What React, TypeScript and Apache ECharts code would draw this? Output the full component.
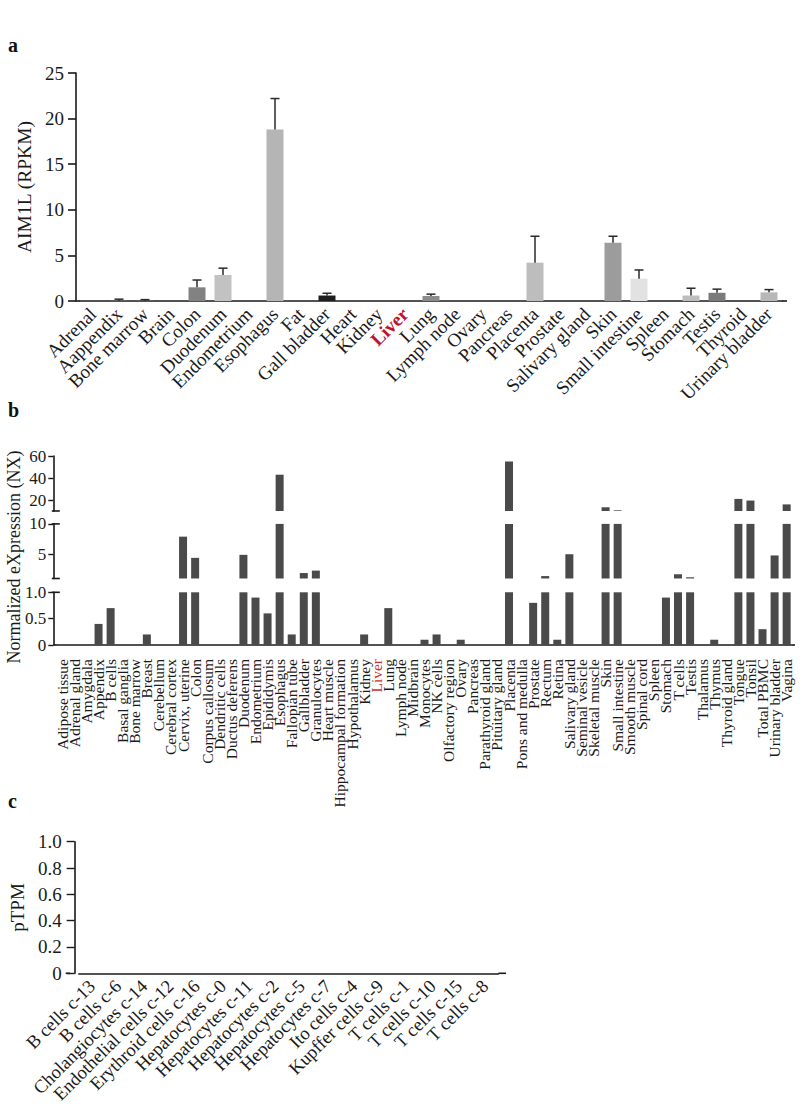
import React, { useEffect, useRef } from "react";
import * as echarts from "echarts";

const FONT = "'Liberation Serif', 'Times New Roman', serif";

// ---------- Panel a ----------
const tissuesA = [
  "Adrenal", "Aappendix", "Bone marrow", "Brain", "Colon", "Duodenum", "Endometrium",
  "Esophagus", "Fat", "Gall bladder", "Heart", "Kidney", "Liver", "Lung", "Lymph node",
  "Ovary", "Pancreas", "Placenta", "Prostate", "Salivary gland", "Skin", "Small intestine",
  "Spleen", "Stomach", "Testis", "Thyroid", "Urinary bladder",
];
const rpkmMean = [
  0, 0.02, 0.02, 0, 1.5, 2.85, 0, 18.8, 0, 0.6, 0, 0, 0, 0.55, 0,
  0, 0, 4.2, 0, 0, 6.4, 2.45, 0, 0.6, 0.9, 0, 0.95,
];
const rpkmUpper = [
  0, 0.2, 0.15, 0, 2.3, 3.6, 0, 22.2, 0, 0.85, 0, 0, 0, 0.75, 0,
  0, 0, 7.1, 0, 0, 7.1, 3.4, 0, 1.4, 1.3, 0, 1.25,
];
const shadesA = [
  "#999", "#999", "#999", "#999", "#828282", "#c2c2c2", "#999", "#b5b5b5", "#999", "#1e1e1e",
  "#999", "#999", "#999", "#8c8c8c", "#999", "#999", "#999", "#bdbdbd", "#999", "#999",
  "#9c9c9c", "#e2e2e2", "#999", "#bdbdbd", "#7a7a7a", "#999", "#b8b8b8",
];
const rpkmTicks = [0, 5, 10, 15, 20, 25];

// ---------- Panel b ----------
const tissuesB = [
  "Adipose tissue", "Adrenal gland", "Amygdala", "Appendix", "B cells", "Basal ganglia",
  "Bone marrow", "Breast", "Cerebellum", "Cerebral cortex", "Cervix, uterine", "Colon",
  "Corpus callosum", "Dendritic cells", "Ductus deferens", "Duodenum", "Endometrium",
  "Epididymis", "Esophagus", "Fallopian tube", "Gallbladder", "Granulocytes", "Heart muscle",
  "Hippocampal formation", "Hypothalamus", "Kidney", "Liver", "Lung", "Lymph node", "Midbrain",
  "Monocytes", "NK cells", "Olfactory region", "Ovary", "Pancreas", "Parathyroid gland",
  "Pituitary gland", "Placenta", "Pons and medulla", "Prostate", "Rectum", "Retina",
  "Salivary gland", "Seminal vesicle", "Skeletal muscle", "Skin", "Small intestine",
  "Smooth muscle", "Spinal cord", "Spleen", "Stomach", "T cells", "Testis", "Thalamus",
  "Thymus", "Thyroid gland", "Tongue", "Tonsil", "Total PBMC", "Urinary bladder", "Vagina",
];
const nxValues = [
  0, 0, 0, 0.4, 0.7, 0, 0, 0.2, 0, 0, 7.9, 4.4,
  0, 0, 0, 4.9, 0.9, 0.6, 43, 0.2, 1.9, 2.3, 0,
  0, 0, 0.2, 0, 0.7, 0, 0, 0.1, 0.2, 0, 0.1, 0, 0,
  0, 55, 0, 0.8, 1.4, 0.1, 5.0, 0, 0, 13.4, 10.6,
  0, 0, 0, 0.9, 1.7, 1.2, 0, 0.1, 0, 21, 19.5, 0.3, 4.8, 16,
];
const nxTopTicks = [20, 40, 60];
const nxMidTicks = [5, 10];
const nxBotTicks = [0, 0.5, 1.0];

// ---------- Panel c ----------
const cellTypes = [
  "B cells c-13", "B cells c-6", "Cholangiocytes c-14", "Endothelial cells c-12",
  "Erythroid cells c-16", "Hepatocytes c-0", "Hepatocytes c-11", "Hepatocytes c-2",
  "Hepatocytes c-5", "Hepatocytes c-7", "Ito cells c-4", "Kupffer cells c-9",
  "T cells c-1", "T cells c-10", "T cells c-15", "T cells c-8",
];
const ptpmValues = [0, 0, 0, 0, 0, 0, 0, 0, 0, 0, 0, 0, 0, 0, 0, 0];
const ptpmTicks = [0, 0.2, 0.4, 0.6, 0.8, 1.0];

const INK = "#1a1a1a";
const BAR_B = "#4a4a4a";

// layout
const A = { axisX: 76, left: 80, top: 73, width: 702, height: 228, lineEnd: 787 };
const B = { axisX: 53.3, left: 56.3, width: 736.4, lineEnd: 795,
  topT: 456, topH: 55, midT: 523.9, midH: 54.6, botT: 592.3, botH: 52.7 };
const C = { axisX: 65.7, left: 69.9, top: 841.7, width: 428.5, height: 131.6, lineEnd: 506 };

const fmtTick = (v: number) => (v === 0 ? "0" : Number.isInteger(v) && v >= 5 ? String(v) : v.toFixed(1));

export default function App() {
  const ref = useRef<HTMLDivElement>(null);
  useEffect(() => {
    if (!ref.current) return;
    const chart = echarts.init(ref.current, null, { renderer: "svg" });

    const axisLine = { show: true, lineStyle: { color: INK, width: 1.6 } };
    const hiddenX = (gi: number, data: string[]) => ({
      type: "category", gridIndex: gi, data, show: false,
    });

    const errRender = (params: any, api: any) => {
      const x = api.value(0);
      const m = api.value(1);
      const u = api.value(2);
      if (!(u > m)) return null;
      const p0 = api.coord([x, m]);
      const p1 = api.coord([x, u]);
      const st = { stroke: "#2a2a2a", lineWidth: 1.5 };
      return {
        type: "group",
        children: [
          { type: "line", shape: { x1: p0[0], y1: p0[1], x2: p1[0], y2: p1[1] }, style: st },
          { type: "line", shape: { x1: p1[0] - 4.5, y1: p1[1], x2: p1[0] + 4.5, y2: p1[1] }, style: st },
        ],
      };
    };

    const breakYs = [B.topT + B.topH, B.midT, B.midT + B.midH, B.botT];
    const hline = (x1: number, x2: number, y: number) => ({
      type: "line", shape: { x1, y1: y, x2, y2: y },
      style: { stroke: INK, lineWidth: 1.6 }, silent: true,
    });

    const option: any = {
      animation: false,
      backgroundColor: "#ffffff",
      textStyle: { fontFamily: FONT },
      grid: [
        { left: A.left, top: A.top, width: A.width, height: A.height },
        { left: B.left, top: B.topT, width: B.width, height: B.topH },
        { left: B.left, top: B.midT, width: B.width, height: B.midH },
        { left: B.left, top: B.botT, width: B.width, height: B.botH },
        { left: C.left, top: C.top, width: C.width, height: C.height },
      ],
      xAxis: [
        {
          type: "category", gridIndex: 0, data: tissuesA,
          axisLine,
          axisTick: { alignWithLabel: true, length: 9, lineStyle: { color: INK, width: 1.6 } },
          axisLabel: {
            rotate: 45, fontSize: 19, color: INK, fontFamily: FONT, margin: 10, interval: 0,
            formatter: (v: string) => (v === "Liver" ? "{liver|Liver}" : v),
            rich: { liver: { color: "#c0122c", fontWeight: "bold", fontSize: 19, fontFamily: FONT } },
          },
        },
        hiddenX(1, tissuesB),
        hiddenX(2, tissuesB),
        {
          type: "category", gridIndex: 3, data: tissuesB,
          axisLine,
          axisTick: { alignWithLabel: true, length: 6, lineStyle: { color: INK, width: 1.4 } },
          axisLabel: {
            rotate: 90, fontSize: 15.5, color: INK, fontFamily: FONT, margin: 14, interval: 0,
            formatter: (v: string) => (v === "Liver" ? "{liver|Liver}" : v),
            rich: { liver: { color: "#d2302c", fontSize: 15.5, fontFamily: FONT } },
          },
        },
        {
          type: "category", gridIndex: 4, data: cellTypes,
          axisLine,
          axisTick: { alignWithLabel: true, length: 6, lineStyle: { color: INK, width: 1.4 } },
          axisLabel: { rotate: 45, fontSize: 18.5, color: INK, fontFamily: FONT, margin: 10, interval: 0 },
        },
      ],
      yAxis: [
        {
          type: "value", gridIndex: 0, min: 0, max: 25, interval: 5, offset: A.left - A.axisX,
          axisLine, splitLine: { show: false },
          axisTick: { show: true, length: 8, lineStyle: { color: INK, width: 1.6 }, customValues: rpkmTicks },
          axisLabel: { fontSize: 19, color: INK, fontFamily: FONT, margin: 12, customValues: rpkmTicks },
          name: "AIM1L (RPKM)", nameLocation: "middle", nameGap: 36,
          nameTextStyle: { fontSize: 19.5, color: INK, fontFamily: FONT },
        },
        {
          type: "value", gridIndex: 1, min: 10, max: 60, offset: B.left - B.axisX,
          axisLine, splitLine: { show: false },
          axisTick: { show: true, length: 5, lineStyle: { color: INK, width: 1.4 }, customValues: nxTopTicks },
          axisLabel: { fontSize: 17, color: INK, fontFamily: FONT, margin: 7, customValues: nxTopTicks },
        },
        {
          type: "value", gridIndex: 2, min: 1, max: 10, offset: B.left - B.axisX,
          axisLine, splitLine: { show: false },
          axisTick: { show: true, length: 5, lineStyle: { color: INK, width: 1.4 }, customValues: nxMidTicks },
          axisLabel: { fontSize: 17, color: INK, fontFamily: FONT, margin: 7, customValues: nxMidTicks },
        },
        {
          type: "value", gridIndex: 3, min: 0, max: 1, offset: B.left - B.axisX,
          axisLine, splitLine: { show: false },
          axisTick: { show: true, length: 5, lineStyle: { color: INK, width: 1.4 }, customValues: nxBotTicks },
          axisLabel: { fontSize: 17, color: INK, fontFamily: FONT, margin: 7, customValues: nxBotTicks, formatter: fmtTick },
        },
        {
          type: "value", gridIndex: 4, min: 0, max: 1, interval: 0.2, offset: C.left - C.axisX,
          axisLine, splitLine: { show: false },
          axisTick: { show: true, length: 8, lineStyle: { color: INK, width: 1.4 } },
          axisLabel: { fontSize: 19, color: INK, fontFamily: FONT, margin: 13, formatter: fmtTick },
          name: "pTPM", nameLocation: "middle", nameGap: 46,
          nameTextStyle: { fontSize: 19, color: INK, fontFamily: FONT },
        },
      ],
      series: [
        {
          type: "bar", xAxisIndex: 0, yAxisIndex: 0, barWidth: 17,
          data: rpkmMean.map((v, i) => ({ value: v, itemStyle: { color: shadesA[i] } })),
        },
        {
          type: "custom", xAxisIndex: 0, yAxisIndex: 0, z: 3,
          renderItem: errRender,
          encode: { x: 0, y: [1, 2] },
          data: rpkmMean.map((v, i) => [i, v, rpkmUpper[i]]),
        },
        { type: "bar", xAxisIndex: 1, yAxisIndex: 1, barWidth: 8, clip: true, data: nxValues, itemStyle: { color: BAR_B } },
        { type: "bar", xAxisIndex: 2, yAxisIndex: 2, barWidth: 8, clip: true, data: nxValues, itemStyle: { color: BAR_B } },
        { type: "bar", xAxisIndex: 3, yAxisIndex: 3, barWidth: 8, clip: true, data: nxValues, itemStyle: { color: BAR_B } },
        { type: "bar", xAxisIndex: 4, yAxisIndex: 4, barWidth: 14, data: ptpmValues, itemStyle: { color: BAR_B } },
      ],
      graphic: [
        { type: "text", left: 8, top: 35, style: { text: "a", font: `bold 20px ${FONT}`, fill: "#111" } },
        { type: "text", left: 8, top: 400, style: { text: "b", font: `bold 20px ${FONT}`, fill: "#111" } },
        { type: "text", left: 8, top: 791, style: { text: "c", font: `bold 20px ${FONT}`, fill: "#111" } },
        {
          type: "text", x: 14, y: 557, rotation: Math.PI / 2,
          style: {
            text: "Normalized eXpression (NX)", font: `18px ${FONT}`, fill: INK,
            align: "center", verticalAlign: "middle",
          },
        },
        hline(A.axisX, A.left, A.top + A.height),
        hline(A.left + A.width, A.lineEnd, A.top + A.height),
        hline(B.axisX, B.left, B.botT + B.botH),
        hline(B.left + B.width, B.lineEnd, B.botT + B.botH),
        hline(C.axisX, C.left, C.top + C.height),
        hline(C.left + C.width, C.lineEnd, C.top + C.height),
        ...breakYs.map((y) => hline(B.axisX - 1.5, B.axisX + 6.5, y)),
      ],
    };

    chart.setOption(option);
    return () => chart.dispose();
  }, []);

  return (
    <div
      ref={ref}
      style={{ position: "absolute", left: 0, top: 0, width: 800, height: 1119, background: "#fff" }}
    />
  );
}
